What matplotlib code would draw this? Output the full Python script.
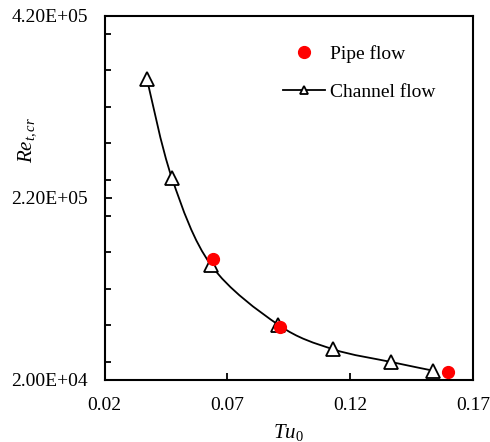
import numpy as np
import matplotlib
matplotlib.use("Agg")
import matplotlib.pyplot as plt
from matplotlib.path import Path
from matplotlib.patches import PathPatch
from matplotlib.ticker import MultipleLocator, FormatStrFormatter

plt.rcParams['font.family'] = ['Liberation Serif', 'DejaVu Serif']
plt.rcParams['mathtext.fontset'] = 'custom'
plt.rcParams['mathtext.it'] = 'Liberation Serif:italic'
plt.rcParams['mathtext.rm'] = 'Liberation Serif'

# data
channel_tu = [0.0373, 0.0474, 0.0634, 0.0908, 0.1131, 0.1366, 0.1538]
channel_re = [3.50e5, 2.42e5, 1.46e5, 8.05e4, 5.37e4, 3.98e4, 3.02e4]
pipe_tu = [0.0640, 0.0916, 0.1599]
pipe_re = [1.525e5, 7.82e4, 2.91e4]

xmin, xmax = 0.02, 0.17
ymin, ymax = 2.0e4, 4.2e5

fig = plt.figure(figsize=(4.9, 4.42), dpi=100)
ax = fig.add_axes([0.2133, 0.1403, 0.752, 0.8242])
ax.set_xlim(xmin, xmax)
ax.set_ylim(ymin, ymax)

# smoothed line (Excel style) through the channel points, in axes fraction
px = (np.array(channel_tu) - xmin) / (xmax - xmin)
py = (np.array(channel_re) - ymin) / (ymax - ymin)
pts = np.column_stack([px, py])
verts = [pts[0]]
codes = [Path.MOVETO]
n = len(pts)
for i in range(n - 1):
    p0 = pts[i - 1] if i > 0 else pts[i]
    p1 = pts[i]
    p2 = pts[i + 1]
    p3 = pts[i + 2] if i + 2 < n else pts[i + 1]
    c1 = p1 + (p2 - p0) / 6.0
    c2 = p2 - (p3 - p1) / 6.0
    verts += [c1, c2, p2]
    codes += [Path.CURVE4] * 3
curve = PathPatch(Path(verts, codes), transform=ax.transAxes, facecolor='none',
                  edgecolor='black', lw=1.3, zorder=2)
ax.add_patch(curve)

ax.plot(channel_tu, channel_re, linestyle='none', marker='^', ms=9.5,
        mfc='white', mec='black', mew=1.3, zorder=3)
ax.plot(pipe_tu, pipe_re, linestyle='none', marker='o', ms=8.5,
        color='#ff0000', zorder=4, label='Pipe flow')
# legend proxy for channel flow
ax.plot([], [], color='black', lw=1.3, marker='^', ms=6, mfc='white',
        mec='black', mew=1.3, label='Channel flow')

ax.set_xticks([0.02, 0.07, 0.12, 0.17])
ax.xaxis.set_major_formatter(FormatStrFormatter('%.2f'))
ax.set_yticks([2.0e4, 2.2e5, 4.2e5])
ax.yaxis.set_minor_locator(MultipleLocator(4.0e4))
ax.set_yticklabels(['2.00E+04', '2.20E+05', '4.20E+05'])

ax.tick_params(axis='both', which='both', direction='in', labelsize=14,
               top=False, right=False, width=1.3)
ax.tick_params(axis='both', which='major', length=5, pad=12)
ax.tick_params(axis='y', which='minor', length=4)
ax.tick_params(axis='x', which='minor', bottom=False)

for s in ax.spines.values():
    s.set_linewidth(1.5)

ax.set_xlabel(r'$Tu_{\mathit{0}}$', fontsize=15)
ax.xaxis.set_label_coords(0.5, -0.115)
ax.set_ylabel(r'$Re_{t,cr}$', fontsize=15)
ax.yaxis.set_label_coords(-0.18, 0.659)

ax.legend(loc='upper left', bbox_to_anchor=(0.484, 0.92), frameon=False,
          fontsize=14, handlelength=2.15, handletextpad=0.25,
          labelspacing=1.05, borderpad=0, borderaxespad=0)

fig.savefig('out.png', dpi=100)
